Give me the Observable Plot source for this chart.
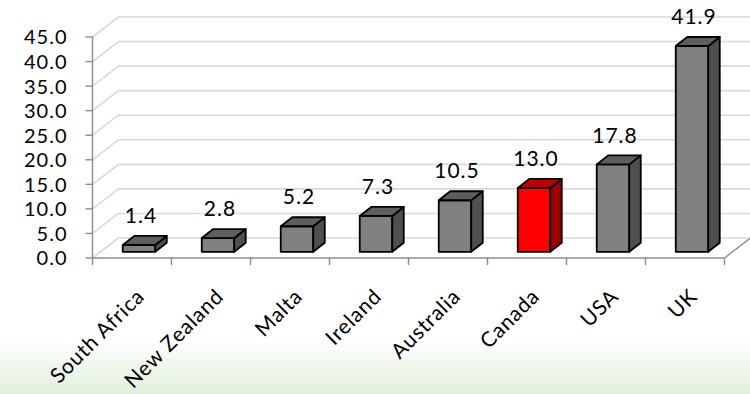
<!DOCTYPE html>
<html><head><meta charset="utf-8">
<script src="https://cdn.jsdelivr.net/npm/d3@7"></script>
<script src="https://cdn.jsdelivr.net/npm/@observablehq/plot@0.6"></script>
<style>
html,body{margin:0;padding:0;width:750px;height:394px;overflow:hidden;
background:linear-gradient(to bottom,#ffffff 0px,#ffffff 340px,#f0f7ed 364px,#e2efdc 394px);}
#chart svg{display:block;}
#chart svg text{letter-spacing:1px;}
#chart svg .xlab text{letter-spacing:0.8px;}
</style></head><body><div id="chart"></div>
<script>
// ---- data ----
const countries = ["South Africa","New Zealand","Malta","Ireland","Australia","Canada","USA","UK"];
const values = [1.4, 2.8, 5.2, 7.3, 10.5, 13.0, 17.8, 41.9];
const highlighted = ["Canada"];
const yTicks = [0, 5, 10, 15, 20, 25, 30, 35, 40, 45];
const yTickLabels = ["0.0","5.0","10.0","15.0","20.0","25.0","30.0","35.0","40.0","45.0"];

// ---- layout / style ----
const W = 750, H = 394;
const mL = 92, mR = 26, mT = 36.5, mB = 136.5;
const kx = (W - mL - mR) / 8;          // px per category
const ky = (H - mT - mB) / 45;         // px per unit
const wallDX = 26 / kx, wallDY = 20 / ky;      // floor / wall depth in data units
const barHW = 16.25 / kx;                       // half bar width
const barDX = 11.5 / kx, barDY = 9 / ky;        // bar depth
const offX = 7.5, offY = -5.7;                  // bar front offset (px)
const font = "Lato, 'Open Sans', sans-serif";
const gridColor = "#d9d9d9", axisColor = "#8c8c8c";
const colFront = "#808080", colSide = "#4f4f4f", colTop = "#5e5e5e";
const hlFront = "#ff0000", hlSide = "#9c0000", hlTop = "#c00000";

const rows = countries.map((c, i) => ({country: c, i, value: values[i], hl: highlighted.includes(c)}));
const sideData = rows.flatMap(d => [
  {country: d.country, hl: d.hl, x: d.i + barHW, y1: 0, y2: d.value},
  {country: d.country, hl: d.hl, x: d.i + barHW + barDX, y1: barDY, y2: d.value + barDY}
]);
const topData = rows.flatMap(d => [
  {country: d.country, hl: d.hl, x: d.i - barHW, y1: d.value, y2: d.value},
  {country: d.country, hl: d.hl, x: d.i - barHW + barDX, y1: d.value, y2: d.value + barDY},
  {country: d.country, hl: d.hl, x: d.i + barHW, y1: d.value, y2: d.value + barDY},
  {country: d.country, hl: d.hl, x: d.i + barHW + barDX, y1: d.value + barDY, y2: d.value + barDY}
]);
const bounds = d3.range(-0.5, countries.length, 1);
const tickRows = yTicks.map((t, j) => ({t, label: yTickLabels[j]}));

const chart = Plot.plot({
  width: W, height: H,
  marginLeft: mL, marginRight: mR, marginTop: mT, marginBottom: mB,
  style: {background: "transparent", fontFamily: font, overflow: "visible"},
  x: {type: "linear", domain: [-0.5, 7.5], axis: null},
  y: {type: "linear", domain: [0, 45], axis: null},
  marks: [
    // back wall gridlines
    Plot.ruleY(yTicks, {y: d => d + wallDY, x1: -0.5 + wallDX, x2: 7.5 + wallDX, stroke: gridColor, strokeWidth: 1.6}),
    // left wall diagonals
    Plot.link(yTicks, {x1: -0.5, y1: d => d, x2: -0.5 + wallDX, y2: d => d + wallDY, stroke: gridColor, strokeWidth: 1.6}),
    // floor right edge
    Plot.link([0], {x1: 7.5, y1: 0, x2: 7.5 + wallDX, y2: wallDY, stroke: axisColor, strokeWidth: 1.4}),
    // y axis line + ticks
    Plot.ruleX([-0.5], {x: d => d, y1: 0, y2: 45, stroke: axisColor, strokeWidth: 1.4}),
    Plot.link(yTicks, {x1: -0.5 - 7 / kx, y1: d => d, x2: -0.5, y2: d => d, stroke: axisColor, strokeWidth: 1.4}),
    // floor front line + category ticks
    Plot.ruleY([0], {y: d => d, x1: -0.5, x2: 7.5, stroke: axisColor, strokeWidth: 1.4}),
    Plot.link(bounds, {x1: d => d, y1: 0, x2: d => d, y2: -7 / ky, stroke: axisColor, strokeWidth: 1.4}),
    // y tick labels
    Plot.text(tickRows, {x: -0.5, y: "t", text: "label", textAnchor: "end", dx: -25, dy: 1, fontSize: 20, fill: "#000"}),
    // bars: front face
    Plot.rect(rows, {x1: d => d.i - barHW, x2: d => d.i + barHW, y1: d => 0, y2: "value",
      dx: offX, dy: offY, fill: d => d.hl ? hlFront : colFront, stroke: "#000", strokeWidth: 1.8, strokeLinejoin: "round"}),
    // bars: side face
    Plot.areaY(sideData, {x: "x", y1: "y1", y2: "y2", z: "country", curve: "linear",
      dx: offX, dy: offY, fill: d => d.hl ? hlSide : colSide, stroke: "#000", strokeWidth: 1.8, strokeLinejoin: "round"}),
    // bars: top face
    Plot.areaY(topData, {x: "x", y1: "y1", y2: "y2", z: "country", curve: "linear",
      dx: offX, dy: offY, fill: d => d.hl ? hlTop : colTop, stroke: "#000", strokeWidth: 1.8, strokeLinejoin: "round"}),
    // value labels
    Plot.text(rows, {x: "i", y: "value", text: d => d.value.toFixed(1), dx: offX + 1.5, dy: offY - 29,
      fontSize: 21, fill: "#000", textAnchor: "middle"}),
    // category labels
    Plot.text(rows, {x: "i", y: d => 0, text: "country", rotate: -45, textAnchor: "end",
      dx: 9, dy: 35, fontSize: 21, fill: "#000", className: "xlab"})
  ]
});
document.getElementById("chart").appendChild(chart);
</script>
</body></html>
